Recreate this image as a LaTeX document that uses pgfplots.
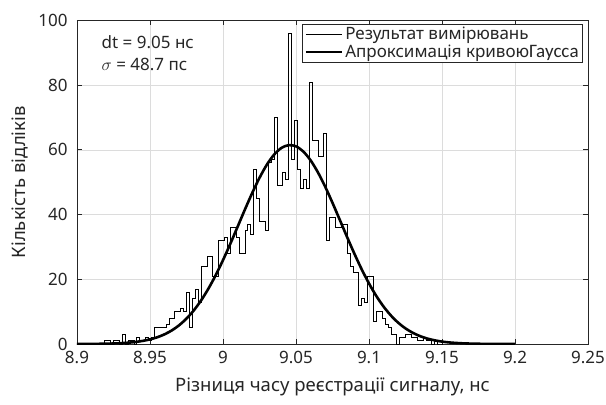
\documentclass[border=0pt]{standalone}
\usepackage{fontspec}
\setmainfont{Noto Sans}
\newfontfamily\carlito{Carlito}
\usepackage{pgfplots}
\usepackage{pgfplotstable}
\pgfplotsset{compat=1.18}
\definecolor{axgray}{HTML}{262626}
\definecolor{gridgray}{HTML}{DCDCDC}

\pgfplotstableread{
x y
8.899 0
8.901 0
8.903 0
8.905 0
8.907 0
8.909 0
8.911 0
8.913 0
8.915 0
8.917 0
8.919 1
8.921 1
8.923 0
8.925 1
8.927 1
8.929 0
8.931 3
8.933 0
8.935 1
8.937 1
8.939 0
8.941 2
8.943 1
8.945 1
8.947 2
8.949 1
8.951 2
8.953 5
8.955 5
8.957 5
8.959 5
8.961 6
8.963 8
8.965 8
8.967 10
8.969 10
8.971 11
8.973 10
8.975 16
8.977 5
8.979 14
8.981 17
8.983 13
8.985 24
8.987 24
8.989 27
8.991 27
8.993 21
8.995 21
8.997 32
8.999 32
9.001 33
9.003 28
9.005 36
9.007 36
9.009 33
9.011 28
9.013 28
9.015 35
9.017 37
9.019 34
9.021 54
9.023 45
9.025 38
9.027 38
9.029 35
9.031 56
9.033 57
9.035 70
9.037 49
9.039 49
9.041 53
9.043 51
9.045 96
9.047 57
9.049 69
9.051 54
9.053 48
9.055 51
9.057 48
9.059 81
9.061 63
9.063 63
9.065 58
9.067 58
9.069 65
9.071 32
9.073 39
9.075 39
9.077 36
9.079 36
9.081 37
9.083 37
9.085 28
9.087 24
9.089 22
9.091 22
9.093 12
9.095 14
9.097 13
9.099 21
9.101 21
9.103 7
9.105 10
9.107 10
9.109 8
9.111 6
9.113 5
9.115 3
9.117 3
9.119 0
9.121 2
9.123 2
9.125 3
9.127 3
9.129 2
9.131 2
9.133 1
9.135 1
9.137 2
9.139 1
9.141 1
9.143 0
9.145 1
9.147 0
9.149 0
9.151 0
}\histdata

\pgfplotstableread{
x y
8.900 0.01
8.905 0.02
8.910 0.03
8.915 0.06
8.920 0.09
8.925 0.16
8.930 0.25
8.935 0.40
8.940 0.63
8.945 0.96
8.950 1.43
8.955 2.09
8.960 3.00
8.965 4.22
8.970 5.82
8.975 7.86
8.980 10.39
8.985 13.47
8.990 17.10
8.995 21.27
9.000 25.93
9.005 30.97
9.010 36.24
9.015 41.55
9.020 46.67
9.025 51.37
9.030 55.40
9.035 58.54
9.040 60.60
9.045 61.47
9.050 61.10
9.055 59.50
9.060 56.77
9.065 53.07
9.070 48.62
9.075 43.63
9.080 38.37
9.085 33.06
9.090 27.91
9.095 23.08
9.100 18.71
9.105 14.85
9.110 11.56
9.115 8.81
9.120 6.58
9.125 4.82
9.130 3.45
9.135 2.43
9.140 1.67
9.145 1.13
9.150 0.74
9.155 0.48
9.160 0.31
9.165 0.19
9.170 0.12
9.175 0.07
9.180 0.04
9.185 0.02
9.190 0.01
9.195 0.01
9.200 0.00
}\gaussdata

\begin{document}
\begin{tikzpicture}
\begin{axis}[
  scale only axis, width=511bp, height=323.5bp,
  xmin=8.9, xmax=9.25, ymin=0, ymax=100,
  xtick={8.9,8.95,9,9.05,9.1,9.15,9.2,9.25},
  xticklabels={8.9,8.95,9,9.05,9.1,9.15,9.2,9.25},
  ytick={0,20,40,60,80,100},
  yticklabels={0,20,40,60,80,100},
  tick align=inside, tick pos=both,
  major tick length=5bp,
  grid=major, major grid style={gridgray, line width=0.6bp},
  axis line style={axgray, line width=0.8bp},
  tick style={axgray, line width=0.8bp},
  ticklabel style={font=\fontsize{17bp}{20bp}\selectfont, text=axgray},
  xticklabel style={yshift=-4bp},
  yticklabel style={xshift=-6bp},
  xlabel={Різниця часу реєстрації сигналу, нс},
  ylabel={Кількість відліків},
  label style={font=\fontsize{18.5bp}{22bp}\selectfont, text=axgray},
  xlabel style={yshift=-7bp},
  ylabel style={yshift=3bp},
  legend style={at={(0.99,0.99)}, anchor=north east, draw=axgray, line width=0.6bp,
    font=\fontsize{17bp}{21bp}\selectfont, text=axgray, inner xsep=2bp, inner ysep=1bp,
    cells={anchor=west}},
  legend image code/.code={\draw[#1] (0bp,0bp) -- (36bp,0bp);},
]
\addplot[const plot, black, line width=0.8bp] table[x=x, y=y] {\histdata};
\addlegendentry{Результат вимірювань}
\addplot[black, line width=2.6bp, smooth] table[x=x, y=y] {\gaussdata};
\addlegendentry{Апроксимація кривою{\carlito\fontsize{19bp}{21bp}\selectfont Гаусса}}
\node[anchor=north west, align=left, inner sep=0pt, text=axgray,
  font=\fontsize{17bp}{22bp}\selectfont] at (rel axis cs:0.048,0.955)
  {dt = 9.05 нс\\$\sigma$ = 48.7 пс};
\end{axis}
\pgfresetboundingbox
\path[use as bounding box] (-77bp,-61bp) rectangle (529bp,344bp);
\end{tikzpicture}
\end{document}
